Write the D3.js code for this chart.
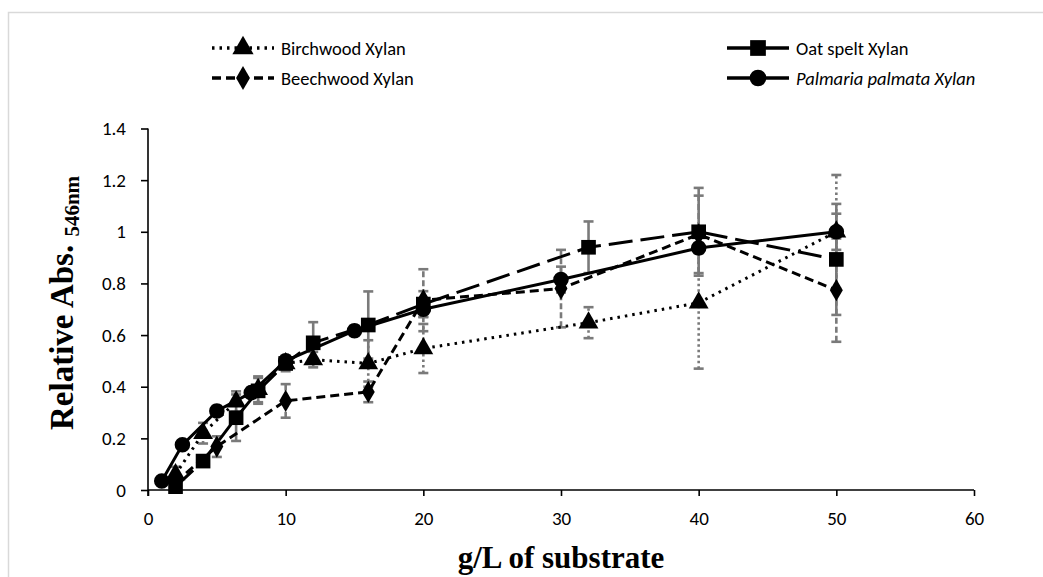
<!DOCTYPE html>
<html>
<head>
<meta charset="utf-8">
<script src="https://cdnjs.cloudflare.com/ajax/libs/d3/7.8.5/d3.min.js"></script>
<style>
  html, body { margin: 0; padding: 0; background: #fff; }
  svg { display: block; }
</style>
</head>
<body>
<svg id="chart" width="1043" height="577"></svg>
<script>
// Relative absorbance (546 nm) versus substrate concentration for four xylans
const xTicks = [0, 10, 20, 30, 40, 50, 60];
const yTicks = [0, 0.2, 0.4, 0.6, 0.8, 1, 1.2, 1.4];

const birchX = [2, 4, 6.4, 8, 10, 12, 16, 20, 32, 40, 50];
const birchY = [0.06, 0.22, 0.342, 0.39, 0.49, 0.505, 0.49, 0.548, 0.648, 0.725, 1.0];
const birchErr = [0.03, 0.04, 0.04, 0.05, 0.02, 0.03, 0.09, 0.095, 0.06, 0.255, 0.22];

const oatX = [2, 4, 6.4, 8, 10, 12, 16, 20, 32, 40, 50];
const oatY = [0.013, 0.112, 0.28, 0.384, 0.49, 0.57, 0.639, 0.72, 0.94, 1.0, 0.893];
const oatErr = [0.01, 0.02, 0.09, 0.05, 0.03, 0.08, 0.13, 0.05, 0.10, 0.17, 0.215];

const beechX = [2, 5, 10, 16, 20, 30, 40, 50];
const beechY = [0.03, 0.168, 0.345, 0.38, 0.735, 0.78, 0.99, 0.774];
const beechErr = [0.02, 0.04, 0.065, 0.04, 0.12, 0.15, 0.15, 0.2];

const palmX = [1, 2.5, 5, 7.5, 10, 15, 20, 30, 40, 50];
const palmY = [0.035, 0.175, 0.306, 0.377, 0.5, 0.617, 0.70, 0.815, 0.937, 1.0];
const palmErr = [0.01, 0.01, 0.02, 0.02, 0.02, 0.02, 0.03, 0.05, 0.02, 0.07];

const zip = (xs, ys, es) => xs.map((x, i) => ({ x, y: ys[i], e: es[i] }));

const series = [
  { name: "Birchwood Xylan", italic: false, pts: zip(birchX, birchY, birchErr),
    dash: "2.5,5", errDash: "2.5,3", symbol: d3.symbolTriangle, size: 170 },
  { name: "Oat spelt Xylan", italic: false, pts: zip(oatX, oatY, oatErr),
    dash: "24,8", errDash: null, symbol: d3.symbolSquare, size: 215 },
  { name: "Beechwood Xylan", italic: false, pts: zip(beechX, beechY, beechErr),
    dash: "9,5", errDash: "6,3", symbol: d3.symbolDiamond, size: 145 },
  { name: "Palmaria palmata Xylan", italic: true, pts: zip(palmX, palmY, palmErr),
    dash: null, errDash: null, symbol: d3.symbolCircle, size: 190 }
];

const svg = d3.select("#chart");

// outer frame
svg.append("rect")
  .attr("x", 8.5).attr("y", 12.5)
  .attr("width", 1100).attr("height", 700)
  .attr("fill", "none").attr("stroke", "#d9d9d9").attr("stroke-width", 1.5);

const x = d3.scaleLinear().domain([0, 60]).range([148, 974]);
const y = d3.scaleLinear().domain([0, 1.4]).range([490, 128.5]);

const tickFont = "Carlito, Lato, 'Liberation Sans', sans-serif";
const titleFont = "'Liberation Serif', 'Times New Roman', serif";

// axes
const xAxis = svg.append("g")
  .attr("transform", `translate(0,${y(0)})`)
  .call(d3.axisBottom(x).tickValues(xTicks).tickSize(6).tickPadding(16).tickFormat(d3.format("d")));
const yAxis = svg.append("g")
  .attr("transform", `translate(${x(0)},0)`)
  .call(d3.axisLeft(y).tickValues(yTicks).tickSize(7).tickPadding(15)
    .tickFormat(d => d === 0 ? "0" : d === 1 ? "1" : d3.format(".1f")(d)));

[xAxis, yAxis].forEach(g => {
  g.select(".domain").attr("stroke", "#000").attr("stroke-width", 1.6);
  g.selectAll(".tick line").attr("stroke", "#000").attr("stroke-width", 1.6);
  g.selectAll(".tick text").attr("fill", "#000")
    .style("font-family", tickFont).style("font-size", "19px");
});
xAxis.select(".domain").attr("d", `M${x(0)},0H${x(60)}`);
yAxis.select(".domain").attr("d", `M0,${y(0)}V${y(1.4)}`);
yAxis.append("line").attr("x1", 0).attr("x2", 0).attr("y1", y(0)).attr("y2", y(0) + 6)
  .attr("stroke", "#000").attr("stroke-width", 1.6);

// error bars
const errG = svg.append("g");
series.forEach(s => {
  const g = errG.append("g")
    .attr("stroke", "#7a7a7a").attr("stroke-width", 2.6).attr("fill", "none");
  s.pts.forEach(p => {
    g.append("line")
      .attr("x1", x(p.x)).attr("x2", x(p.x))
      .attr("y1", y(p.y - p.e)).attr("y2", y(p.y + p.e))
      .attr("stroke-dasharray", s.errDash);
    [p.y - p.e, p.y + p.e].forEach(v => {
      g.append("line")
        .attr("x1", x(p.x) - 5).attr("x2", x(p.x) + 5)
        .attr("y1", y(v)).attr("y2", y(v));
    });
  });
});

// series lines
const line = d3.line().x(d => x(d.x)).y(d => y(d.y));
series.forEach(s => {
  svg.append("path")
    .datum(s.pts)
    .attr("d", line)
    .attr("fill", "none")
    .attr("stroke", "#000")
    .attr("stroke-width", 3)
    .attr("stroke-dasharray", s.dash);
});

// markers
series.forEach(s => {
  svg.append("g").selectAll("path")
    .data(s.pts)
    .join("path")
    .attr("transform", d => `translate(${x(d.x)},${y(d.y)})`)
    .attr("d", d3.symbol().type(s.symbol).size(s.size))
    .attr("fill", "#000");
});

// axis titles
svg.append("text")
  .attr("x", 561).attr("y", 568)
  .attr("text-anchor", "middle")
  .style("font-family", titleFont)
  .style("font-weight", "bold").style("font-size", "31px")
  .text("g/L of substrate");

const yTitle = svg.append("text")
  .attr("transform", "translate(73,430) rotate(-90)")
  .style("font-family", titleFont)
  .style("font-weight", "bold").style("font-size", "33px");
yTitle.append("tspan").text("Relative Abs. ");
yTitle.append("tspan").attr("dy", 6).style("font-size", "21px").text("546nm");

// legend
const legendPos = [
  { sx: 212, ty: 48 }, { sx: 727, ty: 48 },
  { sx: 212, ty: 78 }, { sx: 727, ty: 78 }
];
series.forEach((s, i) => {
  const p = legendPos[i];
  const g = svg.append("g").attr("transform", `translate(${p.sx},${p.ty})`);
  g.append("line").attr("x1", 0).attr("x2", 62).attr("y1", 0).attr("y2", 0)
    .attr("stroke", "#000").attr("stroke-width", 3.5)
    .attr("stroke-dasharray", s.dash === "24,8" ? null : s.dash);
  g.append("path").attr("transform", "translate(31,0)")
    .attr("d", d3.symbol().type(s.symbol).size(s.size * 1.15)).attr("fill", "#000");
  g.append("text").attr("x", 69).attr("y", 6.5)
    .style("font-family", tickFont).style("font-size", "18.5px")
    .style("font-style", s.italic ? "italic" : "normal")
    .text(s.name);
});
</script>
</body>
</html>
